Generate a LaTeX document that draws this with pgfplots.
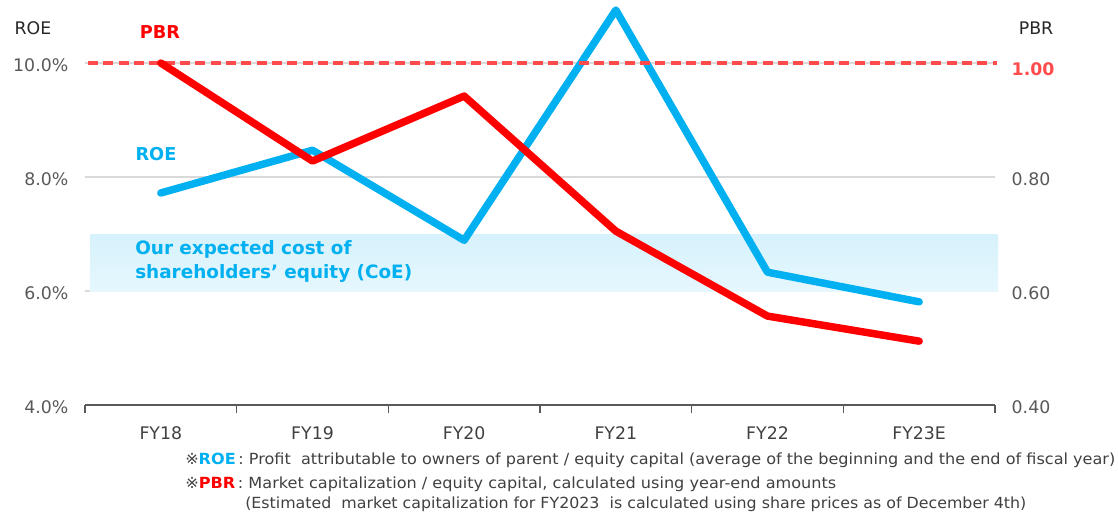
\documentclass[border=0pt]{standalone}
\usepackage{fontspec}
\setmainfont{DejaVu Sans}
\usepackage{graphicx}
\usepackage{pgfplots}
\pgfplotsset{compat=1.18}
\definecolor{roe}{HTML}{00B0F0}
\definecolor{pbr}{HTML}{FF0000}
\definecolor{dashred}{HTML}{FF4B4B}
\definecolor{tickc}{HTML}{595959}
\definecolor{bandtop}{HTML}{D6F2FC}
\definecolor{bandbot}{HTML}{E6F7FD}
\definecolor{notec}{HTML}{404040}
\newcommand\pxy[2]{({((#1)-85)*0.75pt},{(405-(#2))*0.75pt})}
\begin{document}
\begin{tikzpicture}
\useasboundingbox \pxy{0}{0} rectangle \pxy{1118}{512};
\pgfplotsset{
  common/.style={
    at={(0,0)}, anchor=south west,
    scale only axis, width=682.5pt, height=303.525pt,
    xmin=-0.5, xmax=5.5, clip=false,
    tick label style={font=\fontsize{13}{15}\selectfont},
  }
}
\begin{axis}[
  common,
  ymin=4, ymax=11.1,
  axis x line*=bottom, axis y line*=left,
  y axis line style={draw=none},
  x axis line style={draw=tickc, line width=1.2pt, -},
  xtick={0,1,2,3,4,5},
  xticklabels={FY18,FY19,FY20,FY21,FY22,FY23E},
  xticklabel style={text=notec, yshift=-12.5pt},
  xtick style={draw=none},
  extra x ticks={-0.5,0.5,1.5,2.5,3.5,4.5,5.5},
  extra x tick labels={},
  extra x tick style={xtick style={draw=tickc, line width=1.2pt}, major tick length=6pt, tick align=outside, grid=none},
  ytick={4,6,8,10},
  yticklabels={4.0\%,6.0\%,8.0\%,10.0\%},
  yticklabel style={text=tickc, xshift=-9pt, yshift=-1.5pt},
  ytick style={draw=none},
  ymajorgrids, grid style={draw=black!15, line width=0.8pt},
]
\addplot[draw=none, top color=bandtop, bottom color=bandbot] coordinates {(-0.467,6) (5.52,6) (5.52,7) (-0.467,7)} -- cycle;
\addplot[roe, line width=5.6pt, line cap=round, line join=round] coordinates {(0,7.72) (1,8.47) (2,6.89) (3,10.93) (4,6.33) (5,5.81)};
\end{axis}
\begin{axis}[
  common,
  ymin=0.4, ymax=1.11,
  axis x line=none, axis y line*=right,
  y axis line style={draw=none},
  ytick={0.4,0.6,0.8},
  yticklabels={0.40,0.60,0.80},
  yticklabel style={text=tickc, xshift=9pt, yshift=-1.5pt},
  ytick style={draw=none},
  extra y ticks={1.0},
  extra y tick labels={\textbf{1.00}},
  extra y tick style={yticklabel style={text=dashred, yshift=-3pt}},
]
\addplot[dashred, line width=2.4pt, dash pattern=on 7.5pt off 4pt] coordinates {(-0.48,1.0) (5.51,1.0)};
\addplot[pbr, line width=5.6pt, line cap=round, line join=round] coordinates {(0,1.00) (1,0.828) (2,0.942) (3,0.705) (4,0.556) (5,0.512)};
\end{axis}
% titles and labels
\node[text=black!85, font=\fontsize{13}{15}\selectfont] at \pxy{33}{28} {ROE};
\node[text=black!85, font=\fontsize{13}{15}\selectfont] at \pxy{1036}{28} {PBR};
\node[text=pbr, font=\bfseries\fontsize{13.3}{15}\selectfont] at \pxy{160}{32} {PBR};
\node[text=roe, font=\bfseries\fontsize{13.3}{15}\selectfont] at \pxy{156}{154} {ROE};
\node[text=roe, font=\bfseries\fontsize{13.8}{18}\selectfont, anchor=west, align=left, inner sep=0pt] at \pxy{135}{261} {Our expected cost of\\shareholders’ equity (CoE)};
% footnotes
\begin{scope}[every node/.style={anchor=west, inner sep=0pt, text=notec, font=\fontsize{11.5}{13}\selectfont}]
\node at \pxy{185}{460} {\resizebox{697.5pt}{\height}{※\textbf{\textcolor{roe}{ROE}}\,: Profit\ \ attributable to owners of parent / equity capital (average of the beginning and the end of fiscal year)}};
\node at \pxy{185}{484} {\resizebox{488.25pt}{\height}{※\textbf{\textcolor{pbr}{PBR}}\,: Market capitalization / equity capital, calculated using year-end amounts}};
\node at \pxy{245}{504} {\resizebox{585.75pt}{\height}{(Estimated\ \ market capitalization for FY2023\ \ is calculated using share prices as of December 4th)}};
\end{scope}
\end{tikzpicture}
\end{document}
